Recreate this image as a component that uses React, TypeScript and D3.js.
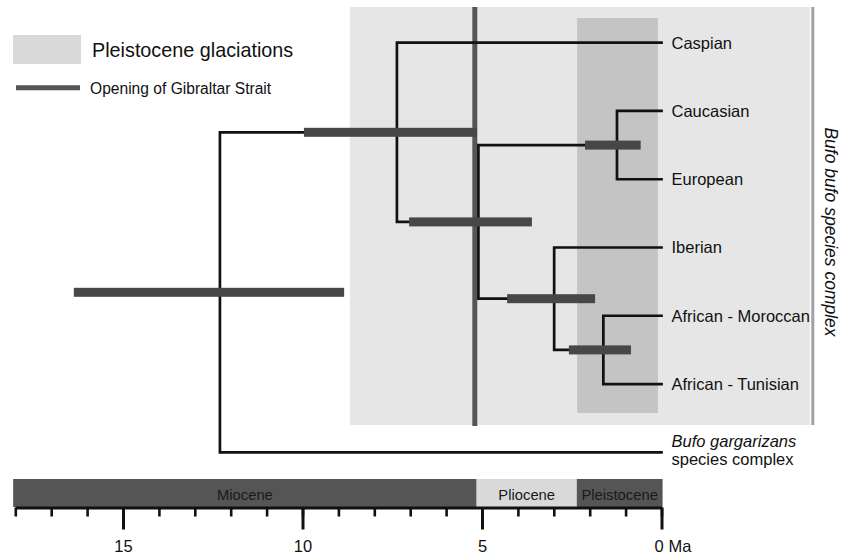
import React, { useEffect, useRef } from 'react';
import * as d3 from 'd3';

// tips, top to bottom (ages = 0 Ma)
const tipNames = ['Caspian', 'Caucasian', 'European', 'Iberian', 'African - Moroccan', 'African - Tunisian', 'gargarizans'];

// internal nodes: age and 95% interval (Ma)
const nodeNames = ['root', 'bufoCrown', 'nodeB', 'nodeC', 'nodeD', 'nodeE'];
const nodeAges = [12.3, 7.37, 5.1, 1.24, 2.99, 1.62];
const ciOld = [16.37, 9.96, 7.03, 2.13, 4.3, 2.58];
const ciYoung = [8.84, 5.14, 3.61, 0.58, 1.85, 0.85];
const nodeChildren = [
    ['bufoCrown', 'gargarizans'],
    ['Caspian', 'nodeB'],
    ['nodeC', 'nodeD'],
    ['Caucasian', 'European'],
    ['Iberian', 'nodeE'],
    ['African - Moroccan', 'African - Tunisian']
];

// geological epochs
const epochNames = ['Miocene', 'Pliocene', 'Pleistocene'];
const epochStart = [18.06, 5.15, 2.36];
const epochEnd = [5.15, 2.36, -0.03];

const majorTicks = [15, 10, 5, 0];
const minorTicks = d3.range(0, 19, 1);

const gibraltarAge = 5.2;
const glaciation = [2.35, 0.1];
const complexSpan = [8.68, -4.13];

const FONT = '"Liberation Sans", Arial, Helvetica, sans-serif';

export default function App() {
    const ref = useRef<SVGSVGElement>(null);

    useEffect(() => {
        const svg = d3.select(ref.current);
        svg.selectAll('*').remove();

        var x = d3.scaleLinear().domain([18, 0]).range([15.3, 661.5]);
        var y = d3.scaleLinear().domain([0, 6]).range([42.7, 452.3]);

        // build node positions
        const pos: any = {};
        tipNames.forEach((t, i) => { pos[t] = { x: x(0), y: y(i) }; });
        const getY = (name: string): number => {
            if (pos[name]) return pos[name].y;
            const k = nodeNames.indexOf(name);
            const ys = nodeChildren[k].map(getY);
            const yy = (ys[0] + ys[1]) / 2;
            pos[name] = { x: x(nodeAges[k]), y: yy };
            return yy;
        };
        nodeNames.forEach(getY);

        // Bufo bufo complex panel
        svg.append('rect')
            .attr('x', x(complexSpan[0])).attr('y', 7)
            .attr('width', x(complexSpan[1]) - x(complexSpan[0])).attr('height', 418)
            .attr('fill', '#e6e6e6');
        svg.append('line')
            .attr('x1', x(complexSpan[1]) + 3).attr('x2', x(complexSpan[1]) + 3)
            .attr('y1', 7).attr('y2', 425)
            .attr('stroke', '#a3a3a3').attr('stroke-width', 3);

        // glaciations band
        svg.append('rect')
            .attr('x', x(glaciation[0])).attr('y', 18)
            .attr('width', x(glaciation[1]) - x(glaciation[0])).attr('height', 395)
            .attr('fill', '#c4c4c4');

        // Gibraltar opening
        svg.append('line')
            .attr('x1', x(gibraltarAge)).attr('x2', x(gibraltarAge))
            .attr('y1', 7).attr('y2', 426)
            .attr('stroke', '#555').attr('stroke-width', 5);

        // branches
        const g = svg.append('g')
            .attr('stroke', '#111').attr('stroke-width', 2.7)
            .attr('fill', 'none').attr('stroke-linecap', 'square');
        nodeNames.forEach((n, k) => {
            const p = pos[n];
            const c = nodeChildren[k].map(ch => pos[ch]);
            g.append('path')
                .attr('d', `M${c[0].x},${c[0].y}H${p.x}V${c[1].y}H${c[1].x}`);
        });

        // node age intervals
        svg.append('g').selectAll('rect')
            .data(nodeNames)
            .enter()
            .append('rect')
            .attr('x', (d, k) => x(ciOld[k]))
            .attr('y', d => pos[d].y - 4.5)
            .attr('width', (d, k) => x(ciYoung[k]) - x(ciOld[k]))
            .attr('height', 9)
            .attr('fill', '#474747');

        // tip labels
        const labels = svg.append('g').attr('font-family', FONT).attr('font-size', 16.5).attr('fill', '#111');
        tipNames.slice(0, 6).forEach(t => {
            labels.append('text').attr('x', x(0) + 10).attr('y', pos[t].y + 5.9).text(t);
        });
        const gt = labels.append('text').attr('x', x(0) + 10).attr('y', pos['gargarizans'].y - 5.6);
        gt.append('tspan').attr('font-style', 'italic').text('Bufo gargarizans');
        gt.append('tspan').attr('x', x(0) + 10).attr('dy', 18.3).text('species complex');

        svg.append('text')
            .attr('transform', `translate(${x(complexSpan[1]) + 15},232) rotate(90)`)
            .attr('text-anchor', 'middle')
            .attr('font-family', FONT).attr('font-size', 17.5).attr('font-style', 'italic')
            .attr('fill', '#111')
            .text('Bufo bufo species complex');

        // legend
        svg.append('rect').attr('x', 13).attr('y', 35).attr('width', 68).attr('height', 29).attr('fill', '#d9d9d9');
        svg.append('text').attr('x', 92).attr('y', 56.5)
            .attr('font-family', FONT).attr('font-size', 19.8).attr('fill', '#111')
            .text('Pleistocene glaciations');
        svg.append('line').attr('x1', 16).attr('x2', 80).attr('y1', 87.7).attr('y2', 87.7)
            .attr('stroke', '#555').attr('stroke-width', 5);
        svg.append('text').attr('x', 90).attr('y', 94)
            .attr('font-family', FONT).attr('font-size', 15.6).attr('fill', '#111')
            .text('Opening of Gibraltar Strait');

        // epoch bar
        const ep = svg.append('g');
        ep.selectAll('rect')
            .data(epochNames)
            .enter()
            .append('rect')
            .attr('x', (d, i) => x(epochStart[i]))
            .attr('y', 479)
            .attr('width', (d, i) => x(epochEnd[i]) - x(epochStart[i]))
            .attr('height', 28)
            .attr('fill', d => d === 'Pliocene' ? '#d9d9d9' : '#555');
        ep.selectAll('text')
            .data(epochNames)
            .enter()
            .append('text')
            .attr('x', (d, i) => (x(epochEnd[i]) + x(epochStart[i])) / 2)
            .attr('y', 500)
            .attr('text-anchor', 'middle')
            .attr('font-family', FONT).attr('font-size', 14.8)
            .attr('fill', '#1a1a1a')
            .text(d => d);

        // time axis
        const minorAxis = d3.axisBottom(x).tickValues(minorTicks).tickSize(9).tickSizeOuter(0).tickFormat(() => '');
        const majorAxis = d3.axisBottom(x).tickValues(majorTicks).tickSize(22).tickSizeOuter(0).tickFormat(d3.format('d'));
        const ax1 = svg.append('g').attr('transform', 'translate(0,507.5)').call(minorAxis);
        ax1.select('.domain').attr('stroke', '#111').attr('stroke-width', 3);
        ax1.selectAll('.tick line').attr('stroke', '#111').attr('stroke-width', 2.6);
        const ax2 = svg.append('g').attr('transform', 'translate(0,507.5)').call(majorAxis);
        ax2.select('.domain').remove();
        ax2.selectAll('.tick line').attr('stroke', '#111').attr('stroke-width', 3);
        ax2.selectAll('.tick text')
            .attr('font-family', FONT).attr('font-size', 16.5).attr('fill', '#111')
            .attr('y', 44).attr('dy', 0)
            .attr('dx', (d: any) => d === 0 ? -3 : 0);
        svg.append('text').attr('x', x(0) + 7).attr('y', 551.5)
            .attr('font-family', FONT).attr('font-size', 16.5).attr('fill', '#111')
            .text('Ma');
    }, []);

    return (
        <svg ref={ref} width={841} height={556}
            style={{ position: 'absolute', left: 0, top: 0, background: '#fff' }} />
    );
}
